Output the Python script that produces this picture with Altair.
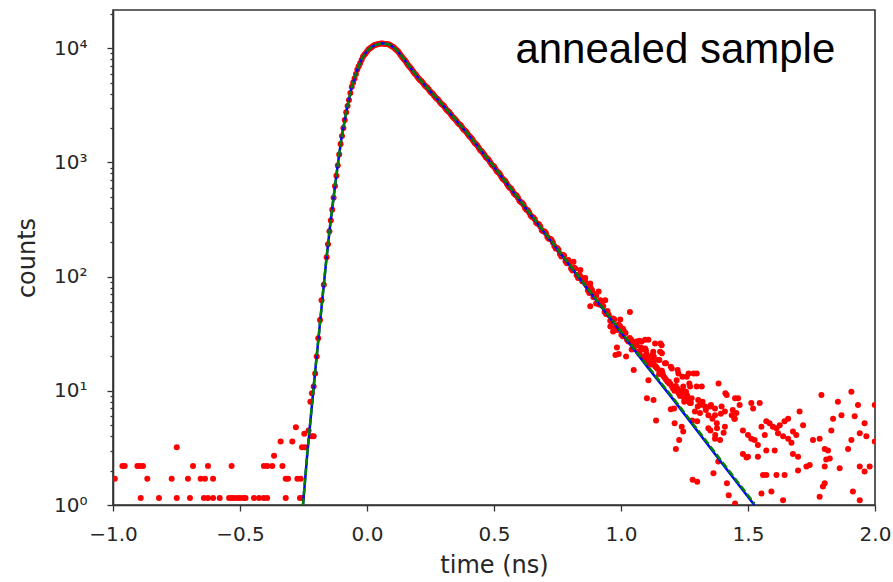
import altair as alt
import pandas as pd

# Photon counts before the pulse and along the rising edge (time in ns)
pre_time = [-0.993, -0.963, -0.954, -0.904, -0.894, -0.891, -0.882, -0.865, -0.819, -0.769,
            -0.749, -0.749, -0.705, -0.697, -0.685, -0.655, -0.642, -0.638, -0.626, -0.626,
            -0.606, -0.606, -0.580, -0.543, -0.533, -0.533, -0.524, -0.511, -0.500, -0.487,
            -0.478, -0.445, -0.425, -0.406, -0.406, -0.393, -0.393, -0.373, -0.366, -0.340,
            -0.333, -0.320, -0.320, -0.311, -0.294, -0.280, -0.274, -0.264, -0.261, -0.256,
            -0.256, -0.247, -0.243, -0.230, -0.223, -0.217, -0.217, -0.210, -0.210, -0.204,
            -0.198, -0.192, -0.185, -0.179, -0.170]
pre_counts = [1.7, 2.2, 2.2, 2.2, 2.2, 1.15, 2.2, 1.7, 1.15, 1.7,
              1.15, 3.2, 1.7, 1.15, 2.2, 1.7, 1.15, 1.7, 1.15, 2.2,
              1.15, 1.7, 1.15, 1.15, 1.15, 2.2, 1.15, 1.15, 1.15, 1.15,
              1.15, 1.15, 1.15, 1.15, 2.2, 1.15, 2.2, 2.2, 2.7, 3.6,
              2.2, 1.15, 1.7, 1.7, 3.6, 4.8, 1.7, 1.15, 1.7, 1.15,
              3.2, 4.2, 3.2, 4.5, 8.0, 4.0, 9.5, 4.0, 10.9, 14.2,
              20, 28.8, 41.7, 62, 85]

# Main decay on a 5.5 ps grid, stored as even and odd channels
bin_ns = 0.011
decay_start_even = -0.159
decay_counts_even = [148, 250, 385, 620, 940, 1450, 2000, 2750, 3520, 4600,
                     5430, 6500, 7400, 8400, 9050, 9750, 10150, 10600, 10780, 10950,
                     10980, 10900, 10850, 10520, 10180, 9650, 9080, 8380, 7860, 7200,
                     6750, 6210, 5850, 5400, 5130, 4760, 4520, 4190, 3990, 3700,
                     3520, 3270, 3110, 2880, 2730, 2520, 2390, 2210, 2110, 1940,
                     1850, 1700, 1610, 1480, 1400, 1280, 1210, 1110, 1055, 965,
                     915, 832, 790, 718, 684, 620, 590, 536, 512, 462,
                     441, 398, 382, 342, 330, 296, 287, 255, 248, 222,
                     214, 199, 176, 172, 150, 152, 131, 132, 113, 118,
                     97, 99, 90, 84, 72, 76, 70, 58, 62, 55,
                     47, 46, 40, 42, 34, 37, 30, 32, 27, 28,
                     24, 25, 21, 23, 19, 20, 17, 18, 16, 14,
                     15, 13, 12, 11.5, 10.5, 11, 9.5, 10, 8.5, 9,
                     7.8]
decay_start_odd = -0.1535
decay_counts_odd = [192, 310, 490, 765, 1170, 1700, 2350, 3120, 4050, 5000,
                    5950, 6950, 7900, 8750, 9400, 9980, 10400, 10700, 10900, 11000,
                    10950, 10870, 10700, 10350, 9900, 9380, 8700, 8100, 7550, 6950,
                    6500, 6000, 5600, 5250, 4950, 4620, 4370, 4080, 3830, 3600,
                    3380, 3200, 2980, 2800, 2630, 2450, 2300, 2160, 2020, 1900,
                    1770, 1660, 1540, 1445, 1335, 1250, 1160, 1080, 1010, 935,
                    870, 815, 750, 700, 650, 600, 565, 520, 490, 450,
                    425, 385, 365, 333, 318, 290, 275, 250, 240, 215,
                    210, 185, 178, 158, 155, 136, 140, 118, 120, 103,
                    104, 91, 92, 76, 80, 66, 68, 57, 60, 49,
                    50, 41, 43, 36, 38, 31, 33, 28, 29, 26,
                    25, 22, 24, 20, 21, 17.5, 18.5, 16.5, 15.5, 14.5,
                    13.5, 12.5, 12, 11, 10, 10.5, 9, 9.5, 8.2, 8.4]

# Scattered late-time counts
tail_time = [0.813, 0.840, 0.859, 0.879, 0.879, 0.912, 0.938, 0.958, 0.978, 0.984,
             0.991, 0.997, 1.020, 1.035, 1.050, 1.060, 1.072, 1.081, 1.095, 1.095,
             1.102, 1.108, 1.108, 1.127, 1.128, 1.129, 1.134, 1.138, 1.147, 1.154,
             1.155, 1.160, 1.161, 1.173, 1.196, 1.200, 1.209, 1.211, 1.216, 1.219,
             1.226, 1.229, 1.239, 1.245, 1.245, 1.259, 1.259, 1.266, 1.272, 1.278,
             1.280, 1.282, 1.286, 1.291, 1.298, 1.298, 1.300, 1.300, 1.304, 1.311,
             1.311, 1.318, 1.331, 1.344, 1.344, 1.350, 1.352, 1.364, 1.370, 1.370,
             1.370, 1.371, 1.377, 1.378, 1.383, 1.384, 1.390, 1.396, 1.404, 1.409,
             1.409, 1.411, 1.416, 1.417, 1.424, 1.436, 1.448, 1.449, 1.449, 1.454,
             1.461, 1.467, 1.480, 1.480, 1.494, 1.500, 1.500, 1.513, 1.513, 1.520,
             1.526, 1.539, 1.539, 1.546, 1.553, 1.553, 1.559, 1.566, 1.572, 1.572,
             1.572, 1.585, 1.592, 1.598, 1.605, 1.612, 1.612, 1.618, 1.625, 1.638,
             1.638, 1.644, 1.644, 1.658, 1.658, 1.671, 1.677, 1.677, 1.690, 1.697,
             1.697, 1.703, 1.717, 1.730, 1.743, 1.756, 1.782, 1.782, 1.789, 1.795,
             1.802, 1.802, 1.802, 1.808, 1.815, 1.822, 1.828, 1.835, 1.854, 1.861,
             1.868, 1.894, 1.907, 1.907, 1.913, 1.920, 1.933, 1.940, 1.940, 1.940,
             1.959, 1.959, 1.966, 1.979, 1.999, 1.999,
             1.098, 1.124, 1.151, 1.177, 1.196, 1.223, 1.242, 1.269, 1.256, 1.302,
             1.321, 1.334, 1.354, 1.275, 1.249, 1.190, 1.164, 1.137, 1.105, 1.393,
             1.440, 1.360, 1.446, 0.902, 0.925, 0.947, 0.969, 1.008, 1.042]
tail_counts = [135, 114, 97, 87, 55, 74, 62, 36.5, 20.6, 24,
               21, 42, 20, 49, 15.2, 27, 27.5, 27, 28, 23.5,
               8.6, 28, 12.4, 22, 8.3, 20, 26, 5.5, 18.6, 22,
               26, 25, 21.3, 17.4, 6.9, 15.7, 7.0, 5.2, 3.1, 12.4,
               14.2, 3.7, 4.85, 10.9, 4.4, 13.3, 9.2, 14.2, 10.9, 8.6,
               5.5, 1.66, 14.2, 6.6, 14.2, 10.9, 1.6, 5.4, 8.3, 7.5,
               6.4, 10.9, 7.3, 6.1, 4.7, 7.3, 4.5, 1.9, 7.0, 6.1,
               3.8, 4.1, 5.2, 4.7, 2.4, 11.6, 3.7, 7.3, 4.3, 6.6,
               4.85, 9.5, 9.2, 1.55, 1.22, 6.1, 5.7, 8.6, 1.03, 6.4,
               8.6, 7.5, 4.5, 2.8, 2.6, 4.1, 2.65, 7.8, 3.8, 7.0,
               3.7, 3.35, 2.65, 7.8, 4.85, 1.26, 1.83, 4.1, 5.4, 3.0,
               1.83, 5.2, 1.31, 4.85, 3.0, 4.7, 1.83, 4.25, 5.0, 4.0,
               1.1, 5.4, 1.83, 5.7, 3.8, 3.5, 4.4, 2.8, 4.1, 2.65,
               2.0, 6.6, 5.0, 2.17, 2.24, 3.7, 3.8, 1.18, 9.2, 1.45,
               3.1, 2.17, 1.55, 2.5, 3.0, 2.56, 4.5, 5.7, 8.0, 2.1,
               6.1, 3.1, 9.8, 3.7, 1.31, 6.0, 7.5, 4.25, 2.17, 1.1,
               5.2, 1.96, 4.0, 2.17, 7.5, 3.6,
               22.7, 20.6, 18.6, 17.4, 16.2, 15.2, 13.3, 11.6, 9.8, 7.3,
               8.0, 6.8, 7.5, 7.8, 8.0, 11.6, 14.2, 16.3, 18, 6.3,
               6.8, 5.7, 5.7, 58, 56, 48, 33, 35, 23]

# Fitted decay curves
fit_time = [-0.252, -0.235, -0.220, -0.205, -0.190, -0.175, -0.160, -0.145, -0.130, -0.115,
            -0.100, -0.080, -0.060, -0.040, -0.020, 0.000, 0.020, 0.040, 0.065, 0.090,
            0.115, 0.140, 0.170, 0.200, 0.250, 0.315, 0.400, 0.500, 0.600, 0.700,
            0.800, 0.900, 1.000, 1.100, 1.200, 1.300, 1.400, 1.525]
fit_blue = [1.0, 2.82, 6.31, 14.1, 30.2, 66.1, 141, 282, 525, 955,
            1660, 2880, 4570, 6310, 8130, 9440, 10350, 10840, 11040, 10720,
            9770, 8320, 6760, 5560, 4170, 2880, 1740, 912, 468, 240,
            123, 63.1, 32.4, 16.6, 8.71, 4.47, 2.29, 1.0]
fit_green = [1.0, 2.85, 6.35, 14.2, 30.4, 66.5, 142, 283, 527, 957,
             1660, 2880, 4570, 6300, 8120, 9430, 10340, 10830, 11030, 10720,
             9780, 8340, 6780, 5580, 4190, 2900, 1750, 920, 473, 243,
             125, 64.2, 33.1, 17.0, 8.95, 4.60, 2.36, 1.03]

x_ticks = [-1.0, -0.5, 0.0, 0.5, 1.0, 1.5, 2.0]
y_ticks = [1, 2, 3, 4, 5, 6, 7, 8, 9,
           10, 20, 30, 40, 50, 60, 70, 80, 90,
           100, 200, 300, 400, 500, 600, 700, 800, 900,
           1000, 2000, 3000, 4000, 5000, 6000, 7000, 8000, 9000,
           10000, 20000]

time_even = [round(decay_start_even + i * bin_ns, 4) for i in range(len(decay_counts_even))]
time_odd = [round(decay_start_odd + i * bin_ns, 4) for i in range(len(decay_counts_odd))]
points = pd.DataFrame({
    "time": pre_time + time_even + time_odd + tail_time,
    "counts": pre_counts + decay_counts_even + decay_counts_odd + tail_counts,
})
fits = pd.DataFrame({"time": fit_time, "blue": fit_blue, "green": fit_green})
note = pd.DataFrame({"time": [1.214], "counts": [7420], "label": ["annealed sample"]})

major = "(datum.value == 1 || datum.value == 10 || datum.value == 100 || datum.value == 1000 || datum.value == 10000)"
y_labels = ("datum.value == 1 ? '10⁰' : datum.value == 10 ? '10¹' : datum.value == 100 ? '10²' : "
            "datum.value == 1000 ? '10³' : datum.value == 10000 ? '10⁴' : ''")

x_enc = alt.X(
    "time:Q",
    scale=alt.Scale(domain=[-1, 2], nice=False, zero=False),
    axis=alt.Axis(values=x_ticks, format=".1f", title="time (ns)", tickSize=6,
                  labelPadding=13, titlePadding=9, labelFlush=False),
)
y_axis = alt.Axis(values=y_ticks, labelExpr=y_labels, title="counts",
                  tickSize={"condition": {"test": major, "value": 6}, "value": 3},
                  labelPadding=20, titlePadding=14, labelOverlap=False, labelBaseline="middle")
y_scale = alt.Scale(type="log", domain=[1, 21600], nice=False)

scatter = alt.Chart(points).mark_circle(size=36, color="#ff0000", opacity=1, clip=True).encode(
    x=x_enc,
    y=alt.Y("counts:Q", scale=y_scale, axis=y_axis),
)
blue_line = alt.Chart(fits).mark_line(color="#0000ff", strokeWidth=2.5, clip=True).encode(
    x=x_enc,
    y=alt.Y("blue:Q", scale=y_scale, axis=y_axis),
)
green_line = alt.Chart(fits).mark_line(color="#008000", strokeWidth=2.5, strokeDash=[7, 3], clip=True).encode(
    x=x_enc,
    y=alt.Y("green:Q", scale=y_scale, axis=y_axis),
)
label = alt.Chart(note).mark_text(font="Liberation Sans", fontSize=42, align="center",
                                  baseline="alphabetic", color="#000000").encode(
    x=x_enc,
    y=alt.Y("counts:Q", scale=y_scale, axis=y_axis),
    text="label:N",
)

chart = alt.layer(scatter, blue_line, green_line, label).properties(
    width=762,
    height=495,
    autosize="none",
    padding={"left": 113, "top": 10, "right": 18, "bottom": 77},
).configure_view(
    stroke="#333333", strokeWidth=1.6,
).configure_axis(
    grid=False,
    labelFont="DejaVu Sans", labelFontSize=20, labelColor="#262626",
    titleFont="DejaVu Sans", titleFontSize=24, titleFontWeight="normal", titleColor="#262626",
    domainColor="#333333", domainWidth=1.6, tickColor="#333333", tickWidth=1.3,
)

chart.save("out.html", embed_options={"renderer": "svg", "actions": False})
